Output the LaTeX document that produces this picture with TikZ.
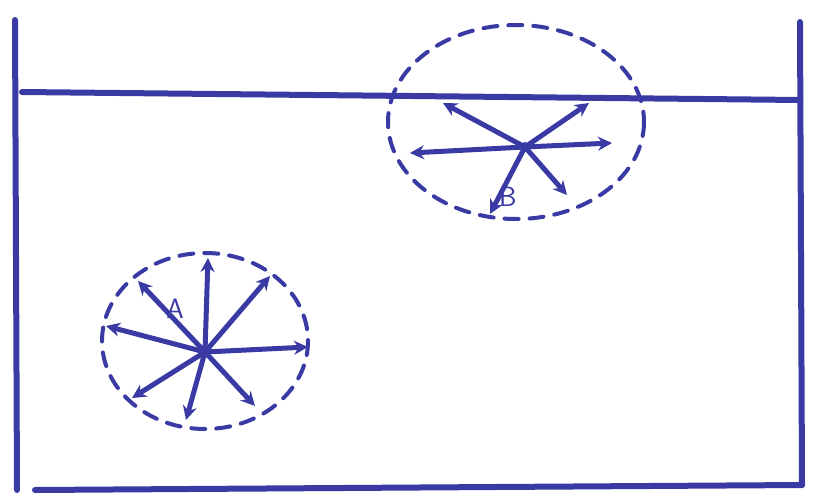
\documentclass[tikz,border=0pt]{standalone}
\usetikzlibrary{arrows.meta}
\definecolor{ink}{RGB}{58,58,165}
\begin{document}
\begin{tikzpicture}[x=1pt,y=-1pt,
  frame/.style={draw=ink,line width=6pt,line cap=round},
  circ/.style={draw=ink,line width=4pt,dash pattern=on 14pt off 11pt,line cap=round},
  vec/.style={draw=ink,line width=5pt,line cap=round,-{Stealth[length=14pt,width=14pt]}},
  lbl/.style={text=ink,font=\sffamily\fontsize{28}{30}\selectfont}]
\useasboundingbox (0,0) rectangle (824,498);
% frame
\coordinate (tl) at (15,20);
\coordinate (bl) at (17,490);
\coordinate (tr) at (800,22);
\coordinate (br) at (802,485);
\coordinate (bbl) at (35,490);
\coordinate (hl) at (22,92);
\coordinate (hr) at (800,100);
\draw[frame] (tl) -- (bl);
\draw[frame] (tr) -- (br);
\draw[frame] (bbl) -- (br);
\draw[frame] (hl) -- (hr);
% circle A
\coordinate (cA) at (205,341);
\draw[circ] (cA) ellipse [x radius=103, y radius=88];
\coordinate (a) at (205,352);
\coordinate (a1) at (208,258);
\coordinate (a2) at (270,276);
\coordinate (a3) at (308,347);
\coordinate (a4) at (255,406);
\coordinate (a5) at (186,420);
\coordinate (a6) at (132,398);
\coordinate (a7) at (106,326);
\coordinate (a8) at (138,281);
\foreach \e in {a1,a2,a3,a4,a5,a6,a7,a8} \draw[vec] (a) -- (\e);
\fill[ink] (a) circle (5pt);
\node[lbl] (la) at (175,309) {A};
% circle B
\coordinate (cB) at (516,122);
\draw[circ] (cB) ellipse [x radius=128, y radius=97];
\coordinate (b) at (525,147);
\coordinate (b1) at (443,103);
\coordinate (b2) at (589,103);
\coordinate (b3) at (612,143);
\coordinate (b4) at (410,153);
\coordinate (b5) at (490,214);
\coordinate (b6) at (567,195);
\foreach \e in {b1,b2,b3,b4,b5,b6} \draw[vec] (b) -- (\e);
\fill[ink] (b) circle (5pt);
\node[lbl] (lb) at (508,197) {B};
\end{tikzpicture}
\end{document}
